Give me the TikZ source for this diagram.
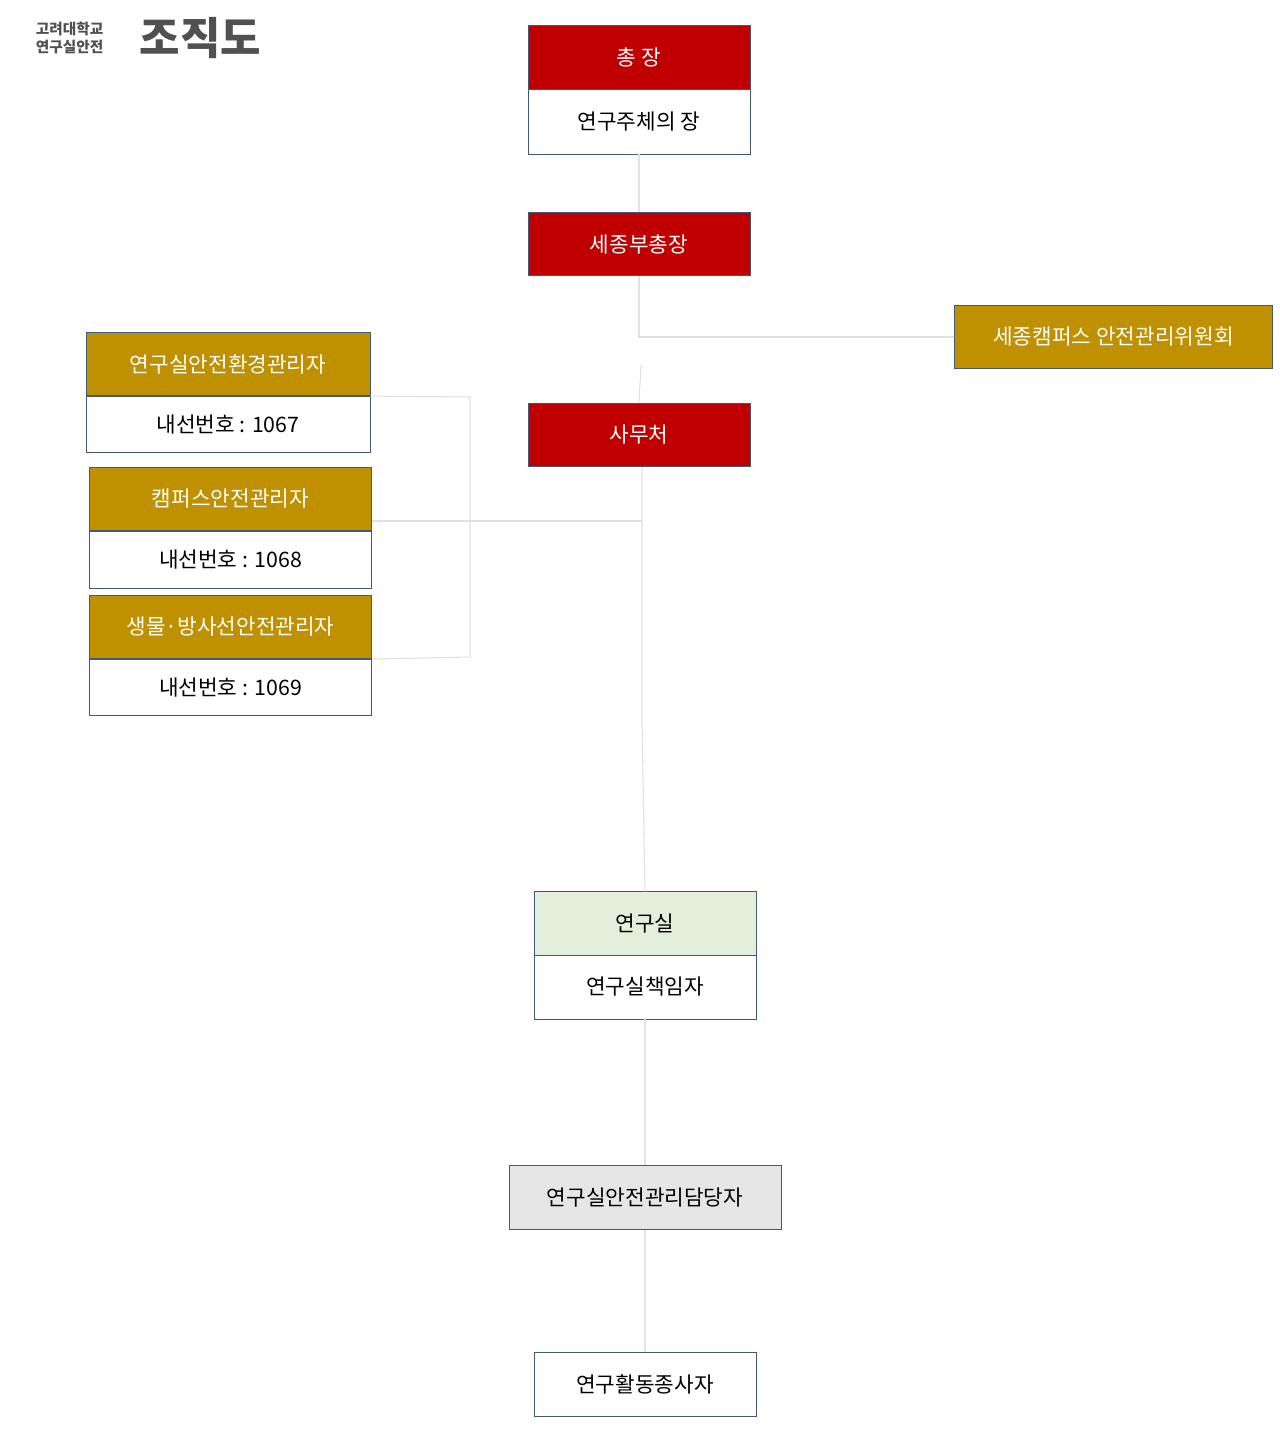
\documentclass[tikz,border=0pt]{standalone}
\usepackage{fontspec}
\setmainfont{Noto Sans CJK KR}
\definecolor{hdred}{RGB}{192,0,0}
\definecolor{hdgold}{RGB}{191,144,0}
\definecolor{bxline}{RGB}{65,90,120}
\definecolor{lnk}{RGB}{225,225,225}
\definecolor{labgreen}{RGB}{226,239,218}
\definecolor{mgrgrey}{RGB}{231,230,230}
\definecolor{ttl}{RGB}{80,80,80}
\tikzset{every picture/.style={line width=0.75pt}}
\tikzset{
  box/.style={draw=bxline,line width=0.6pt,minimum height=47.5pt,inner sep=0pt,font=\fontsize{16}{18}\selectfont},
  redbox/.style={box,fill=hdred,text=white},
  goldbox/.style={box,fill=hdgold,text=white},
  whitebox/.style={box,fill=white,text=black},
  link/.style={draw=lnk,line width=0.8pt}
}
\begin{document}
\begin{tikzpicture}[x=0.75pt,y=0.75pt,yscale=-1,xscale=1]
\path[use as bounding box] (0,0) rectangle (1280,1440);

%Title
\node[anchor=west,text=ttl,font=\fontsize{11}{13}\selectfont\bfseries,align=left] (ttlsmall) at (31,38) {고려대학교\\연구실안전};
\node[anchor=west,text=ttl,font=\fontsize{33}{36}\selectfont\bfseries] (ttlbig) at (135,38) {조직도};

%Top: president
\node[redbox,minimum width=166.5pt] (pres) at (639,57.5) {총 장};
\node[whitebox,minimum width=166.5pt,minimum height=48.75pt] (presb) at (639,121.5) {연구주체의 장};
%Vice president
\node[redbox,minimum width=166.5pt] (vice) at (639,244) {세종부총장};
%Committee
\node[goldbox,minimum width=239pt] (comm) at (1113.5,337) {세종캠퍼스 안전관리위원회};
%Office
\node[redbox,minimum width=166.5pt] (office) at (639,435) {사무처};

%Managers
\node[goldbox,minimum width=213pt] (mgra) at (228,364) {연구실안전환경관리자};
\node[whitebox,minimum width=213pt,minimum height=42pt] (mgrab) at (228,424) {내선번호 : 1067};
\node[goldbox,minimum width=212pt] (mgrb) at (230.5,499) {캠퍼스안전관리자};
\node[whitebox,minimum width=212pt,minimum height=42.75pt] (mgrbb) at (230.5,559.5) {내선번호 : 1068};
\node[goldbox,minimum width=212pt] (mgrc) at (230.5,627) {생물·방사선안전관리자};
\node[whitebox,minimum width=212pt,minimum height=42pt] (mgrcb) at (230.5,687) {내선번호 : 1069};

%Lab
\node[box,fill=labgreen,minimum width=166.5pt] (lab) at (645,923.5) {연구실};
\node[whitebox,minimum width=166.5pt,minimum height=48pt] (labb) at (645,987) {연구실책임자};
\node[box,fill=mgrgrey,minimum width=204pt] (labmgr) at (645,1197.5) {연구실안전관리담당자};
\node[whitebox,minimum width=166.5pt] (worker) at (645,1384.5) {연구활동종사자};

%Links
\coordinate (jc) at (639,337);
\coordinate (jm) at (642,521);
\coordinate (bt) at (470,397);
\coordinate (bb) at (470,657);
\draw[link] (presb.south) -- (vice.north);
\draw[link] (vice.south) -- (jc) -- (comm.west);
\draw[link] (641,365) -- (office.north);
\draw[link] (mgra.south east) -- (bt) -- (bb) -- (mgrc.south east);
\draw[link] (mgrb.south east |- jm) -- (jm);
\draw[link] (642,467) -- (642,720) -- (lab.north);
\draw[link] (labb.south) -- (labmgr.north);
\draw[link] (labmgr.south) -- (worker.north);

\end{tikzpicture}
\end{document}
